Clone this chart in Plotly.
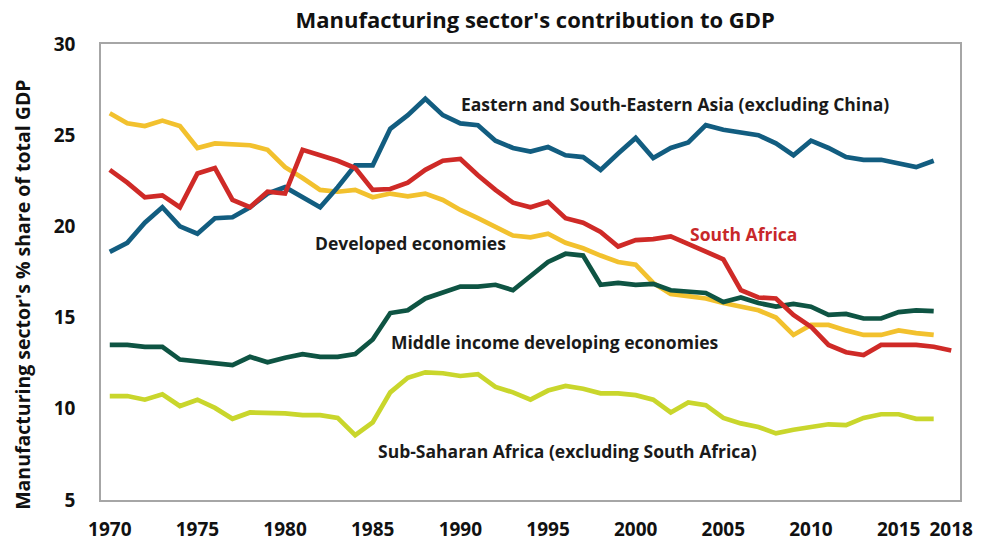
import plotly.graph_objects as go

years = list(range(1970, 2018))
years_sa = list(range(1970, 2019))

developed = [26.2, 25.65, 25.5, 25.8, 25.5, 24.3, 24.55, 24.5, 24.45, 24.2,
             23.25, 22.65, 22.0, 21.9, 22.0, 21.6, 21.8, 21.65, 21.8, 21.45,
             20.9, 20.45, 19.95, 19.5, 19.4, 19.6, 19.1, 18.8, 18.4, 18.05,
             17.9, 16.9, 16.3, 16.15, 16.05, 15.8, 15.6, 15.4, 15.0, 14.05,
             14.6, 14.6, 14.3, 14.05, 14.05, 14.3, 14.15, 14.05]

south_africa = [23.1, 22.4, 21.6, 21.7, 21.05, 22.9, 23.2, 21.45, 21.05, 21.9,
                21.8, 24.2, 23.9, 23.6, 23.2, 22.0, 22.05, 22.4, 23.1, 23.6,
                23.7, 22.8, 22.0, 21.3, 21.05, 21.35, 20.45, 20.2, 19.7, 18.9,
                19.25, 19.3, 19.45, 19.05, 18.65, 18.2, 16.5, 16.1, 16.05, 15.15,
                14.5, 13.5, 13.1, 12.95, 13.5, 13.5, 13.5, 13.4, 13.2]

east_asia = [18.6, 19.1, 20.2, 21.05, 20.0, 19.6, 20.45, 20.5, 21.05, 21.8,
             22.15, 21.6, 21.05, 22.15, 23.35, 23.35, 25.35, 26.1, 27.0, 26.1,
             25.65, 25.55, 24.7, 24.3, 24.1, 24.35, 23.9, 23.8, 23.1, 24.0,
             24.85, 23.75, 24.3, 24.6, 25.55, 25.3, 25.15, 25.0, 24.55, 23.9,
             24.7, 24.3, 23.8, 23.65, 23.65, 23.45, 23.25, 23.6]

middle_income = [13.5, 13.5, 13.4, 13.4, 12.7, 12.6, 12.55, 12.4, 12.85, 12.55,
                 12.8, 13.0, 12.85, 12.85, 13.0, 13.8, 15.25, 15.4, 16.05, 16.4,
                 16.7, 16.7, 16.8, 16.5, 17.3, 18.05, 18.5, 18.4, 16.8, 16.9,
                 16.8, 16.85, 16.5, 16.4, 16.35, 15.85, 16.1, 15.8, 15.6, 15.75,
                 15.6, 15.15, 15.2, 14.95, 14.95, 15.3, 15.4, 15.35]

ssa = [10.7, 10.7, 10.5, 10.8, 10.15, 10.5, 10.05, 9.45, 9.8, 9.8,
       9.75, 9.65, 9.65, 9.5, 8.55, 9.25, 10.9, 11.7, 12.0, 11.95,
       11.8, 11.9, 11.2, 10.9, 10.5, 11.0, 11.25, 11.1, 10.85, 10.85,
       10.75, 10.5, 9.8, 10.35, 10.2, 9.5, 9.2, 9.0, 8.65, 8.85,
       9.0, 9.15, 9.1, 9.5, 9.7, 9.7, 9.45, 9.45]

x_ticks = [1970, 1975, 1980, 1985, 1990, 1995, 2000, 2005, 2010, 2015, 2018]
y_ticks = [5, 10, 15, 20, 25, 30]

labels = [
    ("Eastern and South-Eastern Asia (excluding China)", 1989.9, 26.7, "#1a1a1a"),
    ("Developed economies", 1981.6, 19.08, "#1a1a1a"),
    ("South Africa", 2003.0, 19.58, "#c8282a"),
    ("Middle income developing economies", 1985.9, 13.66, "#1a1a1a"),
    ("Sub-Saharan Africa (excluding South Africa)", 1985.2, 7.68, "#1a1a1a"),
]

FONT = "Open Sans"

fig = go.Figure()
series = [
    ("Developed economies", years, developed, "#f2c12e"),
    ("Sub-Saharan Africa", years, ssa, "#c9d62c"),
    ("Middle income", years, middle_income, "#0e5443"),
    ("Eastern and South-Eastern Asia", years, east_asia, "#125d80"),
    ("South Africa", years_sa, south_africa, "#cf2a27"),
]
for name, xs, ys, col in series:
    fig.add_trace(go.Scatter(x=xs, y=ys, mode="lines", name=name,
                             line=dict(color=col, width=4.7)))

for text, xv, yv, col in labels:
    fig.add_annotation(x=xv, y=yv, text=text, showarrow=False, xanchor="left",
                       yanchor="middle",
                       font=dict(family=FONT, size=17.5, color=col, weight="bold"))

fig.add_annotation(xref="paper", yref="paper", x=-0.0908, y=0.45,
                   text="Manufacturing sector's % share of total GDP",
                   textangle=-90, showarrow=False, xanchor="center", yanchor="middle",
                   font=dict(family=FONT, size=19.5, color="#111111", weight="bold"))

fig.update_layout(
    width=982, height=543,
    margin=dict(l=101, r=22, t=44, b=43),
    plot_bgcolor="white", paper_bgcolor="white",
    showlegend=False,
    title=dict(text="Manufacturing sector's contribution to GDP", x=0.545, y=0.963,
               xanchor="center", yanchor="middle",
               font=dict(family=FONT, size=22, color="#111111", weight="bold")),
    xaxis=dict(range=[1969.5, 2018.5], tickvals=x_ticks, ticktext=[str(v) for v in x_ticks],
               showgrid=False, zeroline=False, showline=True, mirror=True,
               linecolor="#a6a6a6", linewidth=1.5, ticks="", ticklabelstandoff=11,
               automargin=False,
               tickfont=dict(family=FONT, size=19, color="#111111", weight="bold")),
    yaxis=dict(range=[5, 30], tickvals=y_ticks, showgrid=False, zeroline=False,
               showline=True, mirror=True, linecolor="#a6a6a6", linewidth=1.5,
               ticks="", ticklabelstandoff=20, automargin=False,
               tickfont=dict(family=FONT, size=19, color="#111111", weight="bold")),
)

fig.write_html("out.html")
